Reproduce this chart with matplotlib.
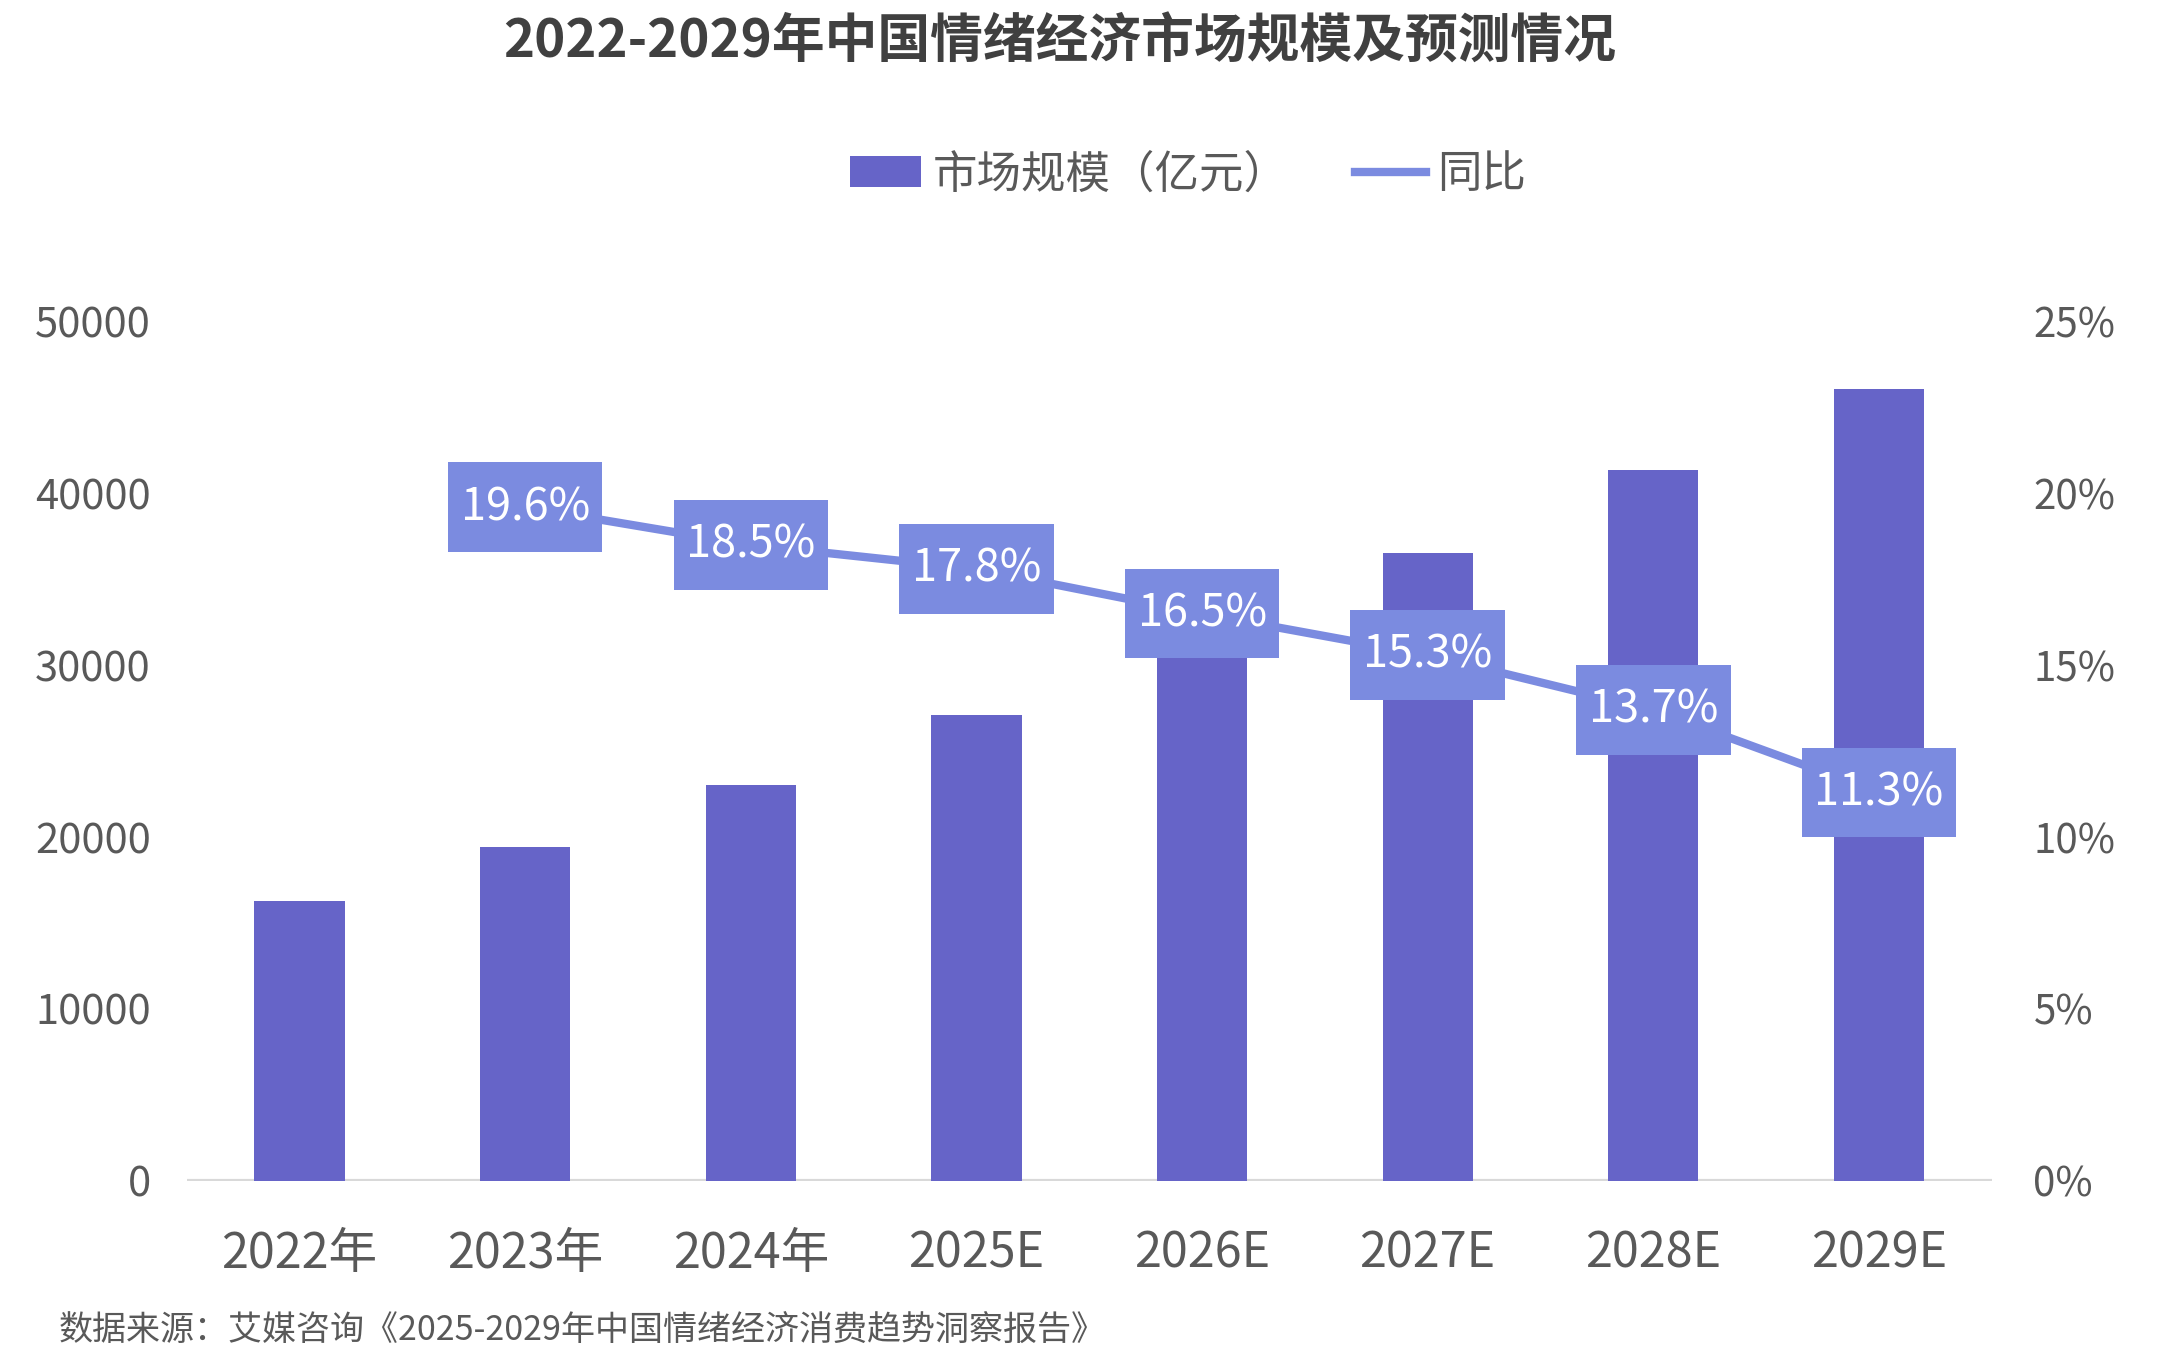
import matplotlib
matplotlib.use("Agg")
import matplotlib.pyplot as plt
from matplotlib.path import Path
import numpy as np

plt.rcParams['font.family'] = ['Noto Sans CJK SC', 'DejaVu Sans']

# data
years = ["2022年", "2023年", "2024年", "2025E", "2026E", "2027E", "2028E", "2029E"]
market_size = [16260, 19410, 23030, 27130, 31600, 36530, 41380, 46080]   # 亿元
yoy = [np.nan, 19.6, 18.5, 17.8, 16.5, 15.3, 13.7, 11.3]                 # %

bar_color = '#6664C8'
line_color = '#7B8BE0'
text_color = '#595959'


def label_box(x0, y0, width, height, mutation_size):
    # square box, more padding top/bottom than left/right
    px = 0.28 * mutation_size
    py = 0.48 * mutation_size
    x0, y0 = x0 - px, y0 - py
    x1, y1 = x0 + width + 2 * px, y0 + height + 2 * py
    return Path([(x0, y0), (x1, y0), (x1, y1), (x0, y1), (x0, y0)], closed=True)


fig = plt.figure(figsize=(21.72, 13.62), dpi=100)
ax = fig.add_axes([0.086, 0.133, 0.831, 0.631])
ax2 = ax.twinx()

x = np.arange(len(years))
ax.bar(x, market_size, width=0.4, color=bar_color, label='市场规模（亿元）', zorder=2)

ax.set_xlim(-0.5, len(years) - 0.5)
ax.set_ylim(0, 50000)
ax.set_yticks(np.arange(0, 50001, 10000))
ax.set_yticklabels([str(v) for v in range(0, 50001, 10000)])
ax.set_xticks(x)
ax.set_xticklabels(years)

yoy_frac = np.array(yoy) / 100.0
ax2.plot(x, yoy_frac, color=line_color, linewidth=6, label='同比', zorder=3)
ax2.set_ylim(0, 0.25)
ax2.set_yticks(np.arange(0, 0.2501, 0.05))
ax2.set_yticklabels([f"{int(round(v * 100))}%" for v in np.arange(0, 0.2501, 0.05)])

for xi, v in zip(x, yoy):
    if np.isnan(v):
        continue
    ax2.text(xi, v / 100.0, f"{v:.1f}%", ha='center', va='center', fontsize=32.5,
             color='white', zorder=5,
             bbox=dict(boxstyle=label_box, facecolor=line_color, edgecolor='none'))

for a in (ax, ax2):
    for side in ('top', 'left', 'right', 'bottom'):
        a.spines[side].set_visible(False)
    a.tick_params(length=0)

ax.axhline(0, color='#D9D9D9', linewidth=3, zorder=1)
ax.tick_params(axis='y', labelsize=30, labelcolor=text_color, pad=26)
ax.tick_params(axis='x', labelsize=35, labelcolor=text_color, pad=35)
ax2.tick_params(axis='y', labelsize=29, labelcolor=text_color, pad=30)

fig.text(0.488, 0.969, "2022-2029年中国情绪经济市场规模及预测情况", ha='center', va='center',
         fontsize=38, fontweight='bold', color='#404040')

h1, l1 = ax.get_legend_handles_labels()
h2, l2 = ax2.get_legend_handles_labels()
fig.legend(h1 + h2, l1 + l2, loc='center', bbox_to_anchor=(0.547, 0.872), ncol=2,
           frameon=False, fontsize=32, labelcolor=text_color, handlelength=1.6,
           handletextpad=0.25, columnspacing=1.5)

fig.text(0.027, 0.0235, "数据来源：艾媒咨询《2025-2029年中国情绪经济消费趋势洞察报告》",
         ha='left', va='center', fontsize=24.5, style='italic', color=text_color)

fig.savefig("out.png", dpi=100)
